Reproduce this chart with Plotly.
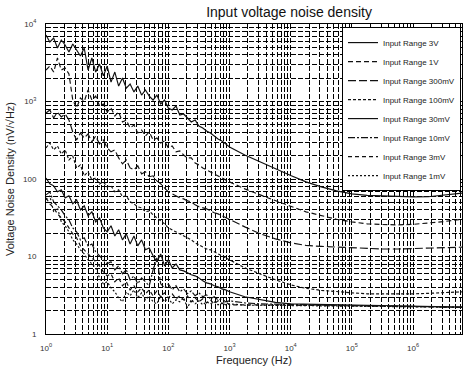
import plotly.graph_objects as go

freq_hz = [1, 1.155, 1.334, 1.54, 1.778, 2.054, 2.371, 2.738, 3.162, 3.652, 4.217, 4.87,
           5.623, 6.494, 7.499, 8.66, 10, 11.55, 13.34, 15.4, 17.78, 20.54, 23.71, 27.38,
           31.62, 36.52, 42.17, 48.7, 56.23, 64.94, 74.99, 86.6, 100, 115.5, 133.4, 154,
           177.8, 205.4, 237.1, 273.8, 316.2, 365.2, 421.7, 487, 562.3, 649.4, 749.9, 866,
           1000, 1778, 3162, 5623, 10000, 17780, 31620, 56230, 100000, 177800, 316200,
           562300, 1000000, 1778000, 3162000, 5623000, 6310000]

range_3V = [7210, 5870, 6600, 4900, 6220, 5360, 4360, 5520, 4620, 3860, 4900, 2550, 3640, 2400,
            3050, 2140, 2870, 1780, 2400, 1580, 2010, 1490, 1680, 1330, 1580, 1210, 1410, 1175,
            1045, 1210, 928, 1045, 824, 777, 874, 670, 690, 613, 544, 577, 483, 455, 417, 393,
            359, 329, 310, 283, 259,
            204, 166, 135, 111, 91.8, 79.2, 70.3, 64.3, 61.5, 60.2, 59.3, 58.8, 59.1, 61.5, 64.7, 65.6]
range_1V = [2550, 2870, 2400, 3640, 2550, 2700, 2270, 1045, 824, 1110, 1000, 1410, 1045, 1175,
            874, 928, 733, 824, 651, 733, 544, 577, 455, 497, 393, 429, 359, 405, 319, 338, 292,
            310, 252, 267, 224, 230, 204, 187, 187, 161, 152, 139, 131, 124, 116, 110, 103, 97.4, 91.8,
            74.6, 62.4, 52.2, 44.4, 37.7, 33.5, 30.2, 28.0, 26.4, 25.9, 25.6, 26.0, 26.8, 28.2, 29.9, 30.3]
range_300mV = [710, 777, 613, 733, 632, 690, 577, 405, 319, 393, 338, 381, 301, 359, 283, 319, 252,
               224, 237, 187, 157, 176, 139, 131, 148, 116, 124, 107, 110, 94.6, 86.5, 76.8, 68.3,
               64.3, 60.6, 57.1, 55.4, 52.2, 50.7, 46.4, 43.8, 42.5, 41.2, 38.8, 36.6, 35.5, 33.5, 31.5, 29.7,
               24.1, 19.6, 16.9, 15.0, 13.9, 13.5, 13.2, 12.9, 12.7, 12.5, 12.5, 12.6, 12.7, 12.9, 13.1, 13.2]
range_100mV = [252, 292, 237, 267, 210, 237, 176, 198, 139, 152, 110, 124, 97.4, 103, 86.5, 91.8,
               79.2, 81.6, 68.3, 72.4, 58.8, 60.6, 50.7, 47.8, 43.8, 42.5, 37.7, 38.8, 34.5, 31.5,
               28.8, 26.4, 23.4, 22.1, 20.8, 19.6, 18.4, 17.4, 16.4, 15.0, 14.1, 13.3, 12.5, 12.2,
               11.5, 10.8, 10.2, 9.6, 9.05,
               7.14, 5.97, 5.00, 4.31, 3.88, 3.66, 3.50, 3.40, 3.30, 3.28, 3.27, 3.30, 3.35, 3.40, 3.48, 3.50]
range_30mV = [103, 86.5, 81.6, 68.3, 72.4, 57.1, 60.6, 47.8, 53.8, 40.0, 45.1, 33.5, 37.7, 28.0,
              31.5, 23.4, 20.8, 24.9, 18.4, 22.1, 16.4, 19.6, 14.5, 18.4, 13.7, 16.4, 12.2, 12.9,
              10.2, 8.53, 10.8, 7.57, 9.05, 7.13, 8.03, 6.72, 6.52, 6.15, 5.80, 5.63, 5.30, 4.85,
              4.57, 4.44, 4.19, 4.07, 3.82, 3.71, 3.50,
              3.02, 2.76, 2.56, 2.45, 2.42, 2.38, 2.37, 2.35, 2.34, 2.33, 2.31, 2.29, 2.27, 2.24, 2.23, 2.22]
range_10mV = [62.4, 68.3, 50.7, 45.1, 40.0, 33.5, 29.7, 23.4, 20.8, 16.4, 17.4, 13.7, 14.5, 11.5,
              10.2, 9.05, 8.03, 8.53, 6.72, 7.57, 5.97, 6.72, 5.00, 5.63, 4.44, 5.30, 4.72, 4.19,
              6.72, 9.6, 4.44, 3.93, 4.44, 3.71, 4.19, 3.50, 3.82, 3.30, 3.60, 3.11, 3.40, 3.02,
              3.20, 2.84, 3.02, 2.76, 2.84, 2.60, 2.68,
              2.52, 2.45, 2.42, 2.38, 2.37, 2.36, 2.35, 2.34, 2.33, 2.31, 2.30, 2.28, 2.26, 2.24, 2.23, 2.22]
range_3mV = [57.1, 47.8, 42.5, 35.5, 31.5, 28.0, 23.4, 19.6, 17.4, 13.7, 12.2, 10.8, 9.6, 8.53,
             7.57, 6.34, 5.63, 5.97, 4.72, 5.30, 4.19, 4.72, 3.71, 4.19, 3.50, 3.93, 3.30, 3.71,
             3.11, 3.60, 3.02, 3.40, 2.93, 3.30, 2.84, 3.11, 2.76, 3.11, 2.60, 2.93, 2.60, 2.84,
             2.52, 2.76, 2.45, 2.68, 2.45, 2.60, 2.38,
             2.38, 2.36, 2.35, 2.34, 2.33, 2.33, 2.32, 2.31, 2.31, 2.30, 2.29, 2.27, 2.25, 2.23, 2.22, 2.21]
range_1mV = [53.8, 60.6, 37.7, 42.5, 28.0, 24.9, 20.8, 16.4, 14.5, 12.2, 10.8, 9.05, 8.03, 7.13,
             5.30, 4.44, 4.72, 3.93, 3.50, 2.93, 2.60, 3.50, 3.11, 3.71, 2.93, 3.40, 2.76, 3.11,
             2.60, 2.45, 3.11, 2.60, 2.93, 2.45, 2.76, 2.60, 2.93, 2.17, 2.76, 2.45, 2.68, 2.38,
             2.60, 2.45, 2.60, 2.38, 2.52, 2.38, 2.45,
             2.35, 2.35, 2.34, 2.33, 2.33, 2.32, 2.31, 2.31, 2.30, 2.29, 2.28, 2.26, 2.24, 2.23, 2.22, 2.21]

series_names = ["Input Range 3V", "Input Range 1V", "Input Range 300mV", "Input Range 100mV",
                "Input Range 30mV", "Input Range 10mV", "Input Range 3mV", "Input Range 1mV"]
series_values = [range_3V, range_1V, range_300mV, range_100mV,
                 range_30mV, range_10mV, range_3mV, range_1mV]
series_dash = ["solid", "5px,3px", "8px,3px", "3px,2px", "solid", "7px,2px,2px,2px", "4px,3px", "2px,2px"]

x_decades = [1, 10, 100, 1000, 10000, 100000, 1000000]
x_decade_labels = ["10<sup>0</sup>", "10<sup>1</sup>", "10<sup>2</sup>", "10<sup>3</sup>",
                   "10<sup>4</sup>", "10<sup>5</sup>", "10<sup>6</sup>"]
y_decades = [1, 10, 100, 1000, 10000]
y_decade_labels = ["1", "10", "100", "10<sup>3</sup>", "10<sup>4</sup>"]
minor_digits = [2, 3, 4, 5, 6, 7, 8, 9]


def minor_positions(decades, upper):
    return [d * m for d in decades for m in minor_digits if d * m <= upper]


x_minor = minor_positions(x_decades, 6.3e6)
y_minor = minor_positions(y_decades, 10000)

fig = go.Figure()
for name, vals, dash in zip(series_names, series_values, series_dash):
    fig.add_trace(go.Scatter(x=freq_hz, y=vals, name=name, mode="lines",
                             line=dict(color="#111111", width=1.15, dash=dash)))

grid_dash = "5px,2px"
fig.update_layout(
    width=470, height=371,
    margin=dict(l=46, r=8, t=24, b=37),
    paper_bgcolor="white", plot_bgcolor="white",
    font=dict(family="Liberation Sans, Arial, sans-serif", color="#222"),
    title=dict(text="Input voltage noise density", x=0.615, xanchor="center",
               y=0.968, yanchor="middle", yref="container",
               font=dict(size=14, color="#111")),
    showlegend=True,
    legend=dict(x=0.9976, y=0.99, xanchor="right", yanchor="top",
                bgcolor="white", bordercolor="black", borderwidth=1,
                font=dict(size=8, color="#222"), itemwidth=30),
    xaxis=dict(type="log", range=[0, 6.8], tickvals=x_decades, ticktext=x_decade_labels,
               showgrid=True, gridcolor="black", gridwidth=1, griddash=grid_dash,
               minor=dict(tickvals=x_minor, showgrid=True, gridcolor="black", gridwidth=1,
                          griddash=grid_dash, ticks=""),
               showline=True, linecolor="black", linewidth=1, mirror=True,
               ticks="", ticklabelstandoff=6, zeroline=False, automargin=False,
               tickfont=dict(size=8, color="#333"),
               title=dict(text="Frequency (Hz)", font=dict(size=11, color="#222"), standoff=4)),
    yaxis=dict(type="log", range=[0, 4], tickvals=y_decades, ticktext=y_decade_labels,
               showgrid=True, gridcolor="black", gridwidth=1, griddash=grid_dash,
               minor=dict(tickvals=y_minor, showgrid=True, gridcolor="black", gridwidth=1,
                          griddash=grid_dash, ticks=""),
               showline=True, linecolor="black", linewidth=1, mirror=True,
               ticks="", ticklabelstandoff=7, zeroline=False, automargin=False,
               tickfont=dict(size=8, color="#333"),
               title=dict(text="Voltage Noise Density (nV/√Hz)", font=dict(size=11, color="#222"),
                          standoff=6)),
)

fig.write_html("out.html", config={"displayModeBar": False},
               post_script="document.body.style.margin='0';")
